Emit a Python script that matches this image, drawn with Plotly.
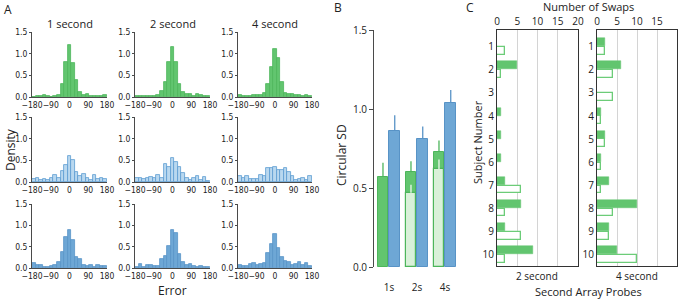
import plotly.graph_objects as go

W, H = 681, 300
FONT = "Open Sans"
NARROW = "Liberation Sans Narrow, DejaVu Sans Condensed, Open Sans"

# ---------------- data ----------------
bin_count = 21
hist_titles = ["1 second", "2 second", "4 second"]
x_tick_vals = [-180, -90, 0, 90, 180]
y_tick_vals = [0, 0.5, 1.0, 1.5]
y_tick_text = ["0.0", "0.5", "1.0", "1.5"]

# row 1 (green), row 2 (light blue), row 3 (blue); columns 1s, 2s, 4s
h_r1c1 = [0.01, 0.02, 0.02, 0.05, 0.02, 0.01, 0.02, 0.05, 0.31, 0.81, 1.20, 0.78, 0.39, 0.12, 0.05, 0.06, 0.03, 0.02, 0.03, 0.02, 0.04]
h_r1c2 = [0.03, 0.03, 0.02, 0.02, 0.03, 0.02, 0.04, 0.13, 0.35, 0.80, 1.15, 0.80, 0.30, 0.12, 0.06, 0.08, 0.03, 0.06, 0.04, 0.03, 0.02]
h_r1c3 = [0.04, 0.02, 0.03, 0.02, 0.04, 0.05, 0.05, 0.10, 0.31, 0.70, 1.10, 0.89, 0.35, 0.10, 0.07, 0.06, 0.04, 0.05, 0.03, 0.04, 0.03]
h_r2c1 = [0.07, 0.10, 0.05, 0.07, 0.05, 0.10, 0.16, 0.10, 0.25, 0.40, 0.60, 0.50, 0.22, 0.15, 0.18, 0.10, 0.05, 0.16, 0.08, 0.10, 0.07]
h_r2c2 = [0.10, 0.10, 0.08, 0.10, 0.12, 0.10, 0.17, 0.10, 0.42, 0.35, 0.55, 0.46, 0.35, 0.20, 0.10, 0.05, 0.10, 0.13, 0.05, 0.12, 0.03]
h_r2c3 = [0.15, 0.10, 0.15, 0.08, 0.08, 0.08, 0.17, 0.13, 0.33, 0.33, 0.35, 0.28, 0.27, 0.33, 0.22, 0.15, 0.05, 0.08, 0.10, 0.05, 0.13]
h_r3c1 = [0.12, 0.08, 0.06, 0.03, 0.02, 0.05, 0.07, 0.15, 0.37, 0.72, 0.88, 0.66, 0.25, 0.20, 0.06, 0.04, 0.07, 0.03, 0.07, 0.05, 0.04]
h_r3c2 = [0.03, 0.10, 0.02, 0.07, 0.07, 0.05, 0.05, 0.20, 0.28, 0.52, 0.88, 0.82, 0.33, 0.15, 0.08, 0.10, 0.05, 0.02, 0.05, 0.02, 0.03]
h_r3c3 = [0.06, 0.04, 0.05, 0.10, 0.11, 0.06, 0.10, 0.12, 0.34, 0.57, 0.80, 0.47, 0.25, 0.17, 0.15, 0.08, 0.10, 0.15, 0.08, 0.11, 0.05]
hist_rows = [[h_r1c1, h_r1c2, h_r1c3], [h_r2c1, h_r2c2, h_r2c3], [h_r3c1, h_r3c2, h_r3c3]]

# panel B
delays = ["1s", "2s", "4s"]
sd_green = [0.57, 0.60, 0.73]
sd_green_err = [0.09, 0.07, 0.07]
sd_light = [0, 0.47, 0.62]
sd_light_err = [0, 0.05, 0.06]
sd_blue = [0.86, 0.81, 1.04]
sd_blue_err = [0.10, 0.08, 0.08]

# panel C
subjects = [1, 2, 3, 4, 5, 6, 7, 8, 9, 10]
swaps_2s_solid = [0, 5, 0, 1, 1, 1, 2, 6, 2, 9]
swaps_2s_hollow = [2, 1, 0, 0, 0, 0, 6, 2, 6, 2]
swaps_4s_solid = [2, 6, 0, 1, 2, 1, 3, 10, 3, 5]
swaps_4s_hollow = [2, 4, 4, 1, 2, 1, 1, 4, 3, 10]
swap_ticks = [0, 5, 10, 15, 20]

# ---------------- helpers ----------------
def xd(a, b):
    return [a / W, b / W]

def yd(top, bottom):
    return [1 - bottom / H, 1 - top / H]

def nz(vals):
    return [v if v else None for v in vals]

AX = "#4a4a4a"
GREEN = "#62c56f"
GREEN_LINE = "#4db55b"
LBLUE = "#b9d8ef"
LBLUE_LINE = "#5a9bd0"
BLUE = "#6ea7d5"
BLUE_LINE = "#5893c6"

fig = go.Figure()
layout = {}

col_x = [(32, 107), (135, 210), (238, 312)]
row_y = [(32, 97), (117, 182), (204, 268)]
row_colors = [(GREEN, GREEN_LINE), (LBLUE, LBLUE_LINE), (BLUE, BLUE_LINE)]
bw = 360 / bin_count
centers = [-180 + (i + 0.5) * bw for i in range(bin_count)]

n = 0
for r in range(3):
    for c in range(3):
        n += 1
        sfx = "" if n == 1 else str(n)
        fill, line = row_colors[r]
        fig.add_trace(go.Bar(
            x=centers, y=hist_rows[r][c], width=bw,
            marker=dict(color=fill, line=dict(color=line, width=0.8)),
            xaxis="x" + sfx, yaxis="y" + sfx, showlegend=False,
            hoverinfo="x+y"))
        layout["xaxis" + sfx] = dict(
            domain=xd(*col_x[c]), range=[-180, 180], anchor="y" + sfx,
            tickvals=x_tick_vals, tickangle=0, showline=True, linecolor=AX,
            linewidth=1, ticks="", showgrid=False, zeroline=False,
            automargin=False, tickfont=dict(size=8.5, color="#222", family=NARROW))
        layout["yaxis" + sfx] = dict(
            domain=yd(*row_y[r]), range=[0, 1.5], anchor="x" + sfx,
            tickvals=y_tick_vals, ticktext=y_tick_text, showline=True,
            linecolor=AX, linewidth=1, ticks="outside", ticklen=2,
            tickcolor=AX, showgrid=False, zeroline=False, automargin=False,
            tickfont=dict(size=8.5, color="#222", family=NARROW))

# ---------------- panel B ----------------
pos = [1, 2, 3]
fig.add_trace(go.Bar(
    x=pos, y=sd_green, width=0.39, offset=-0.41,
    marker=dict(color=GREEN, line=dict(color=GREEN_LINE, width=1)),
    error_y=dict(type="data", array=sd_green_err, arrayminus=[0, 0, 0],
                 symmetric=False, width=0, thickness=1.3, color=GREEN_LINE),
    xaxis="x10", yaxis="y10", showlegend=False))
fig.add_trace(go.Bar(
    x=pos, y=nz(sd_light), width=0.39, offset=-0.41,
    marker=dict(color="#d9f1d9", line=dict(color=GREEN_LINE, width=1.2)),
    error_y=dict(type="data", array=sd_light_err, arrayminus=[0, 0, 0],
                 symmetric=False, width=0, thickness=1.3, color="#eef9ee"),
    xaxis="x10", yaxis="y10", showlegend=False))
fig.add_trace(go.Bar(
    x=pos, y=sd_blue, width=0.41, offset=0.0,
    marker=dict(color=BLUE, line=dict(color=BLUE_LINE, width=1)),
    error_y=dict(type="data", array=sd_blue_err, arrayminus=[0, 0, 0],
                 symmetric=False, width=0, thickness=1.3, color=BLUE_LINE),
    xaxis="x10", yaxis="y10", showlegend=False))
layout["xaxis10"] = dict(
    domain=xd(374, 462), range=[1 - 15 / 28, 1 + 88 / 28 - 15 / 28],
    anchor="y10", tickvals=pos, ticktext=delays, showline=False,
    ticks="outside", ticklen=11, tickcolor="rgba(0,0,0,0)", automargin=False,
    showgrid=False, zeroline=False, tickfont=dict(size=10, color="#222"))
layout["yaxis10"] = dict(
    domain=yd(30, 267), range=[0, 1.5], anchor="x10",
    tickvals=y_tick_vals, ticktext=y_tick_text, showline=True, linecolor=AX,
    linewidth=1, ticks="outside", ticklen=4, tickcolor=AX, automargin=False,
    showgrid=False, zeroline=False, tickfont=dict(size=10, color="#222"))

# ---------------- panel C ----------------
c_panels = [("11", (497, 578), swaps_2s_solid, swaps_2s_hollow),
            ("12", (597, 677), swaps_4s_solid, swaps_4s_hollow)]
for sfx, (a, b), solid, hollow in c_panels:
    fig.add_trace(go.Bar(
        y=subjects, x=nz(solid), orientation="h", width=0.35, offset=-0.37,
        marker=dict(color=GREEN, line=dict(color=GREEN, width=0.5)),
        xaxis="x" + sfx, yaxis="y" + sfx, showlegend=False))
    fig.add_trace(go.Bar(
        y=subjects, x=nz(hollow), orientation="h", width=0.33, offset=0.01,
        marker=dict(color="white", line=dict(color="#6ccc78", width=1.3)),
        xaxis="x" + sfx, yaxis="y" + sfx, showlegend=False))
    layout["xaxis" + sfx] = dict(
        domain=xd(a, b), range=[0, 20], anchor="y" + sfx, side="top",
        tickvals=swap_ticks, showline=True, mirror=True, linecolor="#333",
        linewidth=1.2, ticks="", showgrid=True, gridcolor="#d4d4d4",
        gridwidth=1, zeroline=False, automargin=False,
        tickfont=dict(size=10, color="#222"))
    layout["yaxis" + sfx] = dict(
        domain=yd(30, 266), range=[10.48, 0.28], anchor="x" + sfx,
        tickvals=subjects, showline=True, mirror=True, linecolor="#333",
        linewidth=1.2, ticks="", showgrid=False, zeroline=False,
        automargin=False, tickfont=dict(size=10, color="#222"))

# ---------------- annotations ----------------
def ann(text, x, y, size=11, angle=0):
    return dict(text=text, x=x / W, y=1 - y / H, xref="paper", yref="paper",
                showarrow=False, xanchor="center", yanchor="middle",
                textangle=angle, font=dict(size=size, color="#222", family=FONT))

annotations = [
    ann("A", 8, 10, 12), ann("B", 338, 8, 12), ann("C", 470, 8, 12),
    ann("1 second", 70, 23, 11), ann("2 second", 173, 23, 11), ann("4 second", 275, 23, 11),
    ann("Density", 10, 150, 12, -90), ann("Error", 173, 290, 12),
    ann("Circular SD", 341, 155, 12, -90),
    ann("Number of Swaps", 588, 7, 11), ann("Subject Number", 477, 142, 11, -90),
    ann("2 second", 537, 276, 10), ann("4 second", 637, 276, 10),
    ann("Second Array Probes", 588, 291, 11),
]

fig.update_layout(
    template="none",
    width=W, height=H, margin=dict(l=0, r=0, t=0, b=0, autoexpand=False),
    paper_bgcolor="white", plot_bgcolor="white",
    barmode="overlay", bargap=0,
    font=dict(family=FONT, color="#222"),
    annotations=annotations, **layout)

fig.write_html("out.html",
               config={"displayModeBar": False},
               post_script="document.body.style.margin='0';document.body.style.overflow='hidden';")
